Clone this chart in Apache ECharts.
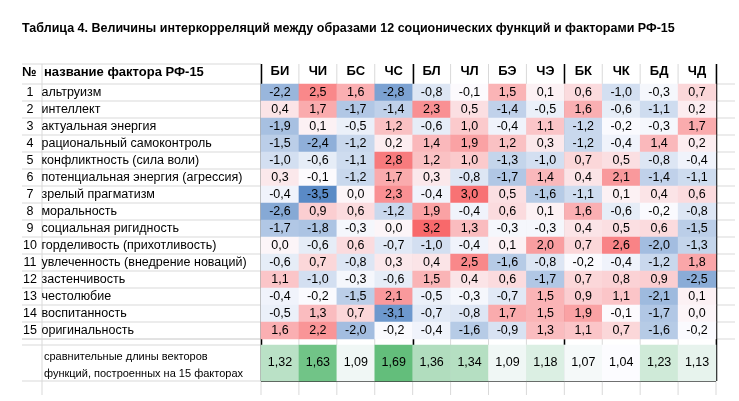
<!DOCTYPE html>
<html>
<head>
<meta charset="utf-8" />
<script src="https://cdn.jsdelivr.net/npm/echarts@6/dist/echarts.min.js"></script>
<style>html,body{margin:0;padding:0;background:#fff}</style>
</head>
<body>
<div id="main" style="width:739px;height:401px"></div>
<script>
var funcs = ['БИ','ЧИ','БС','ЧС','БЛ','ЧЛ','БЭ','ЧЭ','БК','ЧК','БД','ЧД'];
var factors = ['альтруизм','интеллект','актуальная энергия','рациональный самоконтроль',
  'конфликтность (сила воли)','потенциальная энергия (агрессия)','зрелый прагматизм',
  'моральность','социальная ригидность','горделивость (прихотливость)',
  'увлеченность (внедрение новаций)','застенчивость','честолюбие','воспитанность','оригинальность'];
var values = [
  [-2.2,2.5,1.6,-2.8,-0.8,-0.1,1.5,0.1,0.6,-1.0,-0.3,0.7],
  [0.4,1.7,-1.7,-1.4,2.3,0.5,-1.4,-0.5,1.6,-0.6,-1.1,0.2],
  [-1.9,0.1,-0.5,1.2,-0.6,1.0,-0.4,1.1,-1.2,-0.2,-0.3,1.7],
  [-1.5,-2.4,-1.2,0.2,1.4,1.9,1.2,0.3,-1.2,-0.4,1.4,0.2],
  [-1.0,-0.6,-1.1,2.8,1.2,1.0,-1.3,-1.0,0.7,0.5,-0.8,-0.4],
  [0.3,-0.1,-1.2,1.7,0.3,-0.8,-1.7,1.4,0.4,2.1,-1.4,-1.1],
  [-0.4,-3.5,0.0,2.3,-0.4,3.0,0.5,-1.6,-1.1,0.1,0.4,0.6],
  [-2.6,0.9,0.6,-1.2,1.9,-0.4,0.6,0.1,1.6,-0.6,-0.2,-0.8],
  [-1.7,-1.8,-0.3,0.0,3.2,1.3,-0.3,-0.3,0.4,0.5,0.6,-1.5],
  [0.0,-0.6,0.6,-0.7,-1.0,-0.4,0.1,2.0,0.7,2.6,-2.0,-1.3],
  [-0.6,0.7,-0.8,0.3,0.4,2.5,-1.6,-0.8,-0.2,-0.4,-1.2,1.8],
  [1.1,-1.0,-0.3,-0.6,1.5,0.4,0.6,-1.7,0.7,0.8,0.9,-2.5],
  [-0.4,-0.2,-1.5,2.1,-0.5,-0.3,-0.7,1.5,0.9,1.1,-2.1,0.1],
  [-0.5,1.3,0.7,-3.1,-0.7,-0.8,1.7,1.5,1.9,-0.1,-1.7,0.0],
  [1.6,2.2,-2.0,-0.2,-0.4,-1.6,-0.9,1.3,1.1,0.7,-1.6,-0.2]
];
var lengths = [1.32,1.63,1.09,1.69,1.36,1.34,1.09,1.18,1.07,1.04,1.23,1.13];

var FONT = 'Liberation Sans, Arial, sans-serif';
var cells = [];
values.forEach(function (row, i) {
  row.forEach(function (v, j) { cells.push([j, i, v]); });
});
var lenCells = lengths.map(function (v, j) { return [j, 0, v]; });
var rowNames = factors.map(function (f, i) { return (i + 1) + '|' + f; });

var G1 = {left: 261, top: 84, width: 455, height: 255};
var G2 = {left: 261, top: 345, width: 455, height: 36};
var colW = G1.width / 12;

// decorations: light row lines in the name column, black borders
var gfx = [];
for (var k = 0; k <= 15; k++) {
  var y = G1.top + k * G1.height / 15;
  gfx.push({type: 'line', shape: {x1: 22, y1: y, x2: 261, y2: y}, style: {stroke: '#d9d9d9', lineWidth: 1}});
  gfx.push({type: 'line', shape: {x1: 716, y1: y, x2: 735, y2: y}, style: {stroke: '#d9d9d9', lineWidth: 1}});
}
[64, 339, 345, 381].forEach(function (y) {
  gfx.push({type: 'line', shape: {x1: 22, y1: y, x2: 261, y2: y}, style: {stroke: '#d9d9d9', lineWidth: 1}});
});
for (var c = 0; c <= 12; c++) {
  gfx.push({type: 'line', shape: {x1: G1.left + c * colW, y1: 64, x2: G1.left + c * colW, y2: 395}, style: {stroke: '#d9d9d9', lineWidth: 1}});
}
gfx.push({type: 'line', shape: {x1: 42, y1: 64, x2: 42, y2: 395}, style: {stroke: '#d9d9d9', lineWidth: 1}});
[0, 4, 8, 12].forEach(function (c) {
  var x = Math.round(G1.left + c * colW) + 0.5;
  gfx.push({type: 'line', shape: {x1: x, y1: 64, x2: x, y2: 381}, style: {stroke: '#000', lineWidth: 1.5}});
});
gfx.push({type: 'line', shape: {x1: 261, y1: 381, x2: 716, y2: 381}, style: {stroke: '#000', lineWidth: 1.5}});
gfx.push({type: 'text', left: 22, top: 22, style: {text: 'Таблица 4. Величины интеркорреляций между образами 12 соционических функций и факторами РФ-15', font: 'bold 12.5px ' + FONT, fill: '#000'}});
gfx.push({type: 'text', left: 22, top: 66, style: {text: '№', font: 'bold 13px ' + FONT, fill: '#000'}});
gfx.push({type: 'text', left: 44, top: 66, style: {text: 'название фактора РФ-15', font: 'bold 13px ' + FONT, fill: '#000'}});
gfx.push({type: 'text', left: 44, top: 348, style: {text: 'сравнительные длины векторов\nфункций, построенных на 15 факторах', font: '11px ' + FONT, fill: '#000', lineHeight: 17}});

var myChart = echarts.init(document.getElementById('main'));
myChart.setOption({
  animation: false,
  textStyle: {fontFamily: FONT},
  grid: [G1, G2],
  xAxis: [
    {type: 'category', gridIndex: 0, position: 'top', data: funcs,
     axisLine: {show: false}, axisTick: {show: false}, splitLine: {show: false},
     axisLabel: {fontWeight: 'bold', fontSize: 13, color: '#000', margin: 6}},
    {type: 'category', gridIndex: 1, data: funcs, show: false}
  ],
  yAxis: [
    {type: 'category', gridIndex: 0, inverse: true, data: rowNames,
     axisLine: {show: false}, axisTick: {show: false}, splitLine: {show: false},
     axisLabel: {align: 'left', margin: 239, color: '#000', fontSize: 12.5,
       formatter: function (s) { var p = s.split('|'); return '{n|' + p[0] + '} {t|' + p[1] + '}'; },
       rich: {n: {width: 16, align: 'right', fontSize: 12.5, color: '#000'}, t: {fontSize: 12.5, color: '#000'}}}},
    {type: 'category', gridIndex: 1, data: ['len'], show: false}
  ],
  visualMap: [
    {type: 'continuous', show: false, seriesIndex: 0, min: -3.5, max: 3.2,
     inRange: {color: ['#5a8ac6', '#fcfcff', '#f8696b']}},
    {type: 'continuous', show: false, seriesIndex: 1, min: 1.04, max: 1.69,
     inRange: {color: ['#fcfcff', '#63be7b']}}
  ],
  series: [
    {type: 'heatmap', xAxisIndex: 0, yAxisIndex: 0, data: cells,
     label: {show: true, color: '#000', fontSize: 12.5,
       formatter: function (p) { return p.value[2].toFixed(1).replace('.', ','); }}},
    {type: 'heatmap', xAxisIndex: 1, yAxisIndex: 1, data: lenCells,
     label: {show: true, color: '#000', fontSize: 12.5,
       formatter: function (p) { return p.value[2].toFixed(2).replace('.', ','); }}}
  ],
  graphic: gfx
});
</script>
</body>
</html>
